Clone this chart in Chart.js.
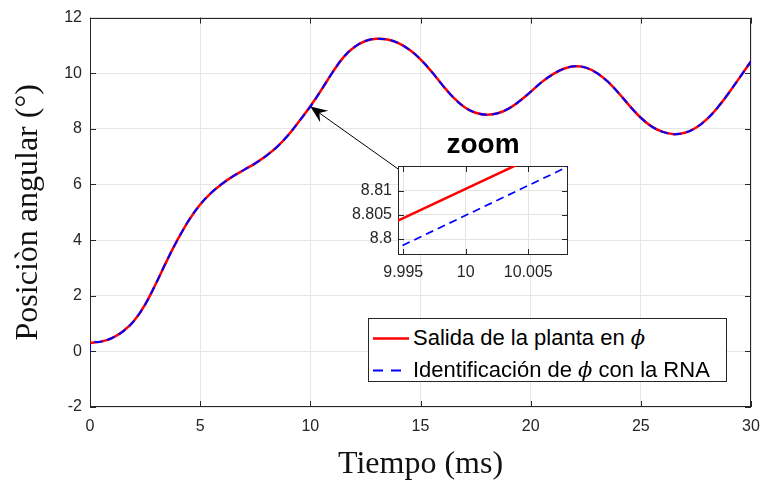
<!DOCTYPE html>
<html>
<head>
<meta charset="utf-8">
<script src="https://cdn.jsdelivr.net/npm/chart.js@4.4.1/dist/chart.umd.min.js"></script>
<style>
  body { margin: 0; background: #fff; }
  #wrap { position: relative; width: 761px; height: 484px; overflow: hidden; }
  #main { position: absolute; left: 0; top: 0; }
  #zoom { position: absolute; left: 340px; top: 120px; }
  #leyenda {
    position: absolute; left: 368px; top: 318px; width: 357px; height: 62px;
    border: 1px solid #262626; background: #fff;
    font-family: "Liberation Sans", Arial, sans-serif; font-size: 22px; color: #000;
  }
  .fila { position: absolute; left: 0; height: 30px; line-height: 30px; white-space: nowrap; }
  .fila svg { position: absolute; left: 4px; top: 14px; }
  .fila .txt { position: absolute; left: 44px; top: 0; }
  .phi { font-family: "DejaVu Serif", serif; font-style: italic; font-size: 21px; }
</style>
</head>
<body>
<div id="wrap">
  <canvas id="main" width="761" height="484"></canvas>
  <canvas id="zoom" width="240" height="170"></canvas>
  <div id="leyenda">
    <div class="fila" style="top:4px">
      <svg width="36" height="3"><line x1="0" y1="1.5" x2="36" y2="1.5" stroke="#ff0000" stroke-width="2.5"/></svg>
      <span class="txt">Salida de la planta en <span class="phi">ϕ</span></span>
    </div>
    <div class="fila" style="top:36px">
      <svg width="36" height="3"><line x1="0" y1="1.5" x2="36" y2="1.5" stroke="#0000ff" stroke-width="2" stroke-dasharray="10,8"/></svg>
      <span class="txt">Identificación de <span class="phi">ϕ</span> con la RNA</span>
    </div>
  </div>
</div>
<script>
// tiempo en ms, cada 0.5
const tiempo = [0, 0.5, 1, 1.5, 2, 2.5, 3, 3.5, 4, 4.5, 5, 5.5, 6, 6.5, 7, 7.5, 8, 8.5, 9, 9.5,
  10, 10.5, 11, 11.5, 12, 12.5, 13, 13.5, 14, 14.5, 15, 15.5, 16, 16.5, 17, 17.5, 18, 18.5, 19, 19.5,
  20, 20.5, 21, 21.5, 22, 22.5, 23, 23.5, 24, 24.5, 25, 25.5, 26, 26.5, 27, 27.5, 28, 28.5, 29, 29.5, 30];

// salida de la planta (grados)
const salidaPlanta = [0.30, 0.35, 0.48, 0.72, 1.10, 1.68, 2.45, 3.28, 4.05, 4.73, 5.28, 5.70, 6.03, 6.30, 6.53, 6.76, 7.03, 7.36, 7.78, 8.28,
  8.81, 9.40, 10.02, 10.57, 10.94, 11.16, 11.24, 11.21, 11.08, 10.84, 10.50, 10.06, 9.57, 9.12, 8.78, 8.58, 8.51, 8.56, 8.73, 9.00,
  9.33, 9.68, 9.96, 10.16, 10.25, 10.20, 10.01, 9.70, 9.28, 8.82, 8.40, 8.08, 7.89, 7.81, 7.86, 8.04, 8.35, 8.78, 9.30, 9.86, 10.43];

// identificacion con la RNA (arranca en 0)
const tiempoRNA = [0, 0, 0.5, 1, 1.5, 2, 2.5, 3, 3.5, 4, 4.5, 5, 5.5, 6, 6.5, 7, 7.5, 8, 8.5, 9, 9.5,
  10, 10.5, 11, 11.5, 12, 12.5, 13, 13.5, 14, 14.5, 15, 15.5, 16, 16.5, 17, 17.5, 18, 18.5, 19, 19.5,
  20, 20.5, 21, 21.5, 22, 22.5, 23, 23.5, 24, 24.5, 25, 25.5, 26, 26.5, 27, 27.5, 28, 28.5, 29, 29.5, 30];
const identRNA = [0, 0.30, 0.35, 0.48, 0.72, 1.10, 1.68, 2.45, 3.28, 4.05, 4.73, 5.28, 5.70, 6.03, 6.30, 6.53, 6.76, 7.03, 7.36, 7.78, 8.28,
  8.80, 9.40, 10.02, 10.57, 10.94, 11.16, 11.24, 11.21, 11.08, 10.84, 10.50, 10.06, 9.57, 9.12, 8.78, 8.58, 8.51, 8.56, 8.73, 9.00,
  9.33, 9.68, 9.96, 10.16, 10.25, 10.20, 10.01, 9.70, 9.28, 8.82, 8.40, 8.08, 7.89, 7.81, 7.86, 8.04, 8.35, 8.78, 9.30, 9.86, 10.43];

const xTicks = [0, 5, 10, 15, 20, 25, 30];
const yTicks = [-2, 0, 2, 4, 6, 8, 10, 12];

// datos del zoom
const zoomTiempo = [9.994, 10.009];
const zoomPlanta = [8.8031, 8.8213];
const zoomRNA = [8.7975, 8.8160];
const zoomXTicks = [9.995, 10, 10.005];
const zoomYTicks = [8.8, 8.805, 8.81];

// flecha: desde la esquina del zoom hasta el punto (10, 8.8)
const flechaDesde = { x: 13.98, y: 6.56 };
const flechaHasta = { x: 10, y: 8.8 };

const ejeColor = '#262626';
const tickFont = { family: '"Liberation Sans", Arial, sans-serif', size: 16 };

function puntos(xs, ys) {
    return xs.map((x, i) => ({ x: x, y: ys[i] }));
}

// marco y ticks hacia adentro (estilo matlab), debajo de las lineas
const marcoEjes = {
    id: 'marcoEjes',
    beforeDatasetsDraw(chart) {
        const ctx = chart.ctx;
        const a = chart.chartArea;
        const sx = chart.scales.x;
        const sy = chart.scales.y;
        const L = 6;
        ctx.save();
        ctx.strokeStyle = ejeColor;
        ctx.lineWidth = 1;
        ctx.beginPath();
        sx.ticks.forEach(t => {
            const px = Math.round(sx.getPixelForValue(t.value)) + 0.5;
            ctx.moveTo(px, a.bottom); ctx.lineTo(px, a.bottom - L);
            ctx.moveTo(px, a.top); ctx.lineTo(px, a.top + L);
        });
        sy.ticks.forEach(t => {
            const py = Math.round(sy.getPixelForValue(t.value)) + 0.5;
            ctx.moveTo(a.left, py); ctx.lineTo(a.left + L, py);
            ctx.moveTo(a.right, py); ctx.lineTo(a.right - L, py);
        });
        ctx.stroke();
        ctx.strokeRect(Math.round(a.left) + 0.5, Math.round(a.top) + 0.5,
            Math.round(a.right - a.left) - 1, Math.round(a.bottom - a.top) - 1);
        ctx.restore();
    }
};

const flecha = {
    id: 'flecha',
    afterDraw(chart) {
        const ctx = chart.ctx;
        const sx = chart.scales.x;
        const sy = chart.scales.y;
        const x0 = sx.getPixelForValue(flechaDesde.x), y0 = sy.getPixelForValue(flechaDesde.y);
        const x1 = sx.getPixelForValue(flechaHasta.x), y1 = sy.getPixelForValue(flechaHasta.y);
        const ang = Math.atan2(y1 - y0, x1 - x0);
        const len = 17, half = 7;
        ctx.save();
        ctx.strokeStyle = '#000';
        ctx.lineWidth = 1;
        ctx.beginPath();
        ctx.moveTo(x0, y0);
        ctx.lineTo(x1 - Math.cos(ang) * 10, y1 - Math.sin(ang) * 10);
        ctx.stroke();
        ctx.translate(x1, y1);
        ctx.rotate(ang);
        ctx.fillStyle = '#000';
        ctx.beginPath();
        ctx.moveTo(0, 0);
        ctx.lineTo(-len, -half);
        ctx.lineTo(-len * 0.65, 0);
        ctx.lineTo(-len, half);
        ctx.closePath();
        ctx.fill();
        ctx.restore();
    }
};

const fondoBlanco = {
    id: 'fondoBlanco',
    beforeDraw(chart) {
        const a = chart.chartArea;
        chart.ctx.save();
        chart.ctx.fillStyle = '#fff';
        chart.ctx.fillRect(a.left, a.top, a.right - a.left, a.bottom - a.top);
        chart.ctx.restore();
    }
};

new Chart(document.getElementById('main'), {
    type: 'line',
    data: {
        datasets: [{
            label: 'Salida de la planta en ϕ',
            data: puntos(tiempo, salidaPlanta),
            borderColor: '#ff0000',
            borderWidth: 2.5,
            pointRadius: 0,
            tension: 0.4,
            order: 2
        }, {
            label: 'Identificación de ϕ con la RNA',
            data: puntos(tiempoRNA, identRNA),
            borderColor: '#0000ff',
            borderWidth: 2,
            borderDash: [8, 5],
            pointRadius: 0,
            tension: 0.4,
            order: 1
        }]
    },
    options: {
        responsive: false,
        animation: false,
        layout: { padding: { top: 13, right: 10, left: 0, bottom: 0 } },
        plugins: { legend: { display: false }, tooltip: { enabled: false } },
        scales: {
            x: {
                type: 'linear', min: 0, max: 30,
                afterBuildTicks: s => { s.ticks = xTicks.map(v => ({ value: v })); },
                afterFit: s => { s.height = 77; s.paddingLeft = 0; s.paddingRight = 0; },
                grid: { color: '#e6e6e6', drawTicks: false },
                border: { display: false },
                ticks: { color: ejeColor, font: tickFont, padding: 10, maxRotation: 0 },
                title: {
                    display: true, text: 'Tiempo (ms)', color: '#111',
                    font: { family: '"Liberation Serif", "Times New Roman", serif', size: 32 },
                    padding: { top: 0, bottom: 0 }
                }
            },
            y: {
                min: -2, max: 12,
                afterBuildTicks: s => { s.ticks = yTicks.map(v => ({ value: v })); },
                afterFit: s => { s.width = 90; },
                grid: { color: '#e6e6e6', drawTicks: false },
                border: { display: false },
                ticks: { color: ejeColor, font: tickFont, padding: 8 },
                title: {
                    display: true, text: 'Posiciòn angular (°)', color: '#111',
                    font: { family: '"Liberation Serif", "Times New Roman", serif', size: 32 },
                    padding: { top: 9, bottom: 0 }
                }
            }
        }
    },
    plugins: [marcoEjes, flecha]
});

new Chart(document.getElementById('zoom'), {
    type: 'line',
    data: {
        datasets: [{
            data: puntos(zoomTiempo, zoomPlanta),
            borderColor: '#ff0000',
            borderWidth: 2.5,
            pointRadius: 0,
            order: 2
        }, {
            data: puntos(zoomTiempo, zoomRNA),
            borderColor: '#0000ff',
            borderWidth: 1.7,
            borderDash: [8, 5],
            pointRadius: 0,
            order: 1
        }]
    },
    options: {
        responsive: false,
        animation: false,
        layout: { padding: { top: 0, right: 12, left: 0, bottom: 0 } },
        plugins: {
            legend: { display: false }, tooltip: { enabled: false },
            title: {
                display: true, text: 'zoom', color: '#000', fullSize: false,
                font: { family: '"Liberation Sans", Arial, sans-serif', size: 28, weight: 'bold' },
                padding: { top: 8, bottom: 4.4 }
            }
        },
        scales: {
            x: {
                type: 'linear', min: 9.99458, max: 10.00818,
                afterBuildTicks: s => { s.ticks = zoomXTicks.map(v => ({ value: v })); },
                afterFit: s => { s.height = 35; },
                grid: { color: '#e3e3e3', drawTicks: false },
                border: { display: false },
                ticks: { color: ejeColor, font: { family: tickFont.family, size: 16 }, padding: 8, maxRotation: 0,
                    callback: v => String(+v.toFixed(3)) }
            },
            y: {
                min: 8.7967, max: 8.8151,
                afterBuildTicks: s => { s.ticks = zoomYTicks.map(v => ({ value: v })); },
                afterFit: s => { s.width = 58; },
                grid: { color: '#e3e3e3', drawTicks: false },
                border: { display: false },
                ticks: { color: ejeColor, font: { family: tickFont.family, size: 16 }, padding: 6,
                    callback: v => String(+v.toFixed(3)) }
            }
        }
    },
    plugins: [fondoBlanco, marcoEjes]
});
</script>
</body>
</html>
